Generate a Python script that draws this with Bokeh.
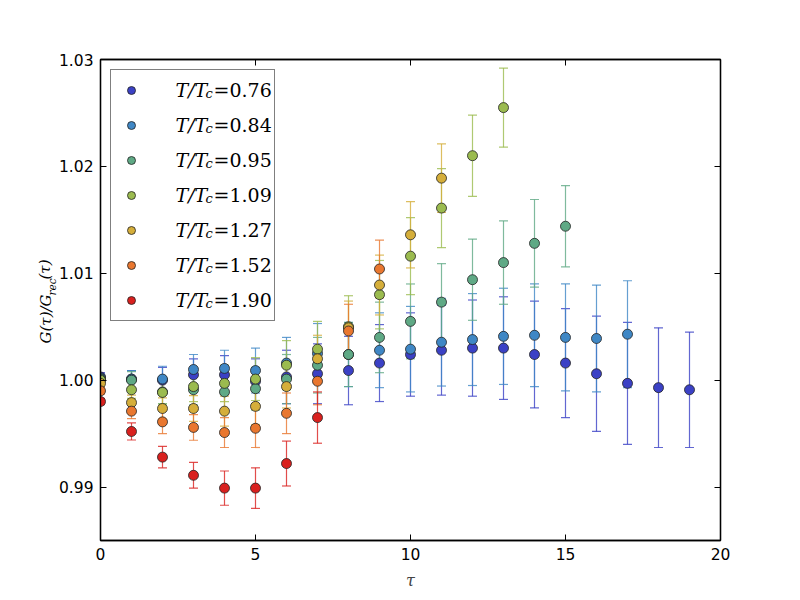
import math
from bokeh.plotting import figure
from bokeh.models import (ColumnDataSource, Whisker, TeeHead, Legend, LegendItem,
                          LinearAxis, FixedTicker, NumeralTickFormatter, Label, Range1d)
from bokeh.embed import file_html
from bokeh.resources import INLINE

# ---- data ----
temps = ["0.76", "0.84", "0.95", "1.09", "1.27", "1.52", "1.90"]
colors = ["#3b41c5", "#3f87c5", "#5fa985", "#9bbb4f", "#d5ae3a", "#e9772f", "#d9201e"]

vals_076 = [1.0003, 1.0001, 1.0000, 1.0005, 1.0005, 0.9999, 1.0003, 1.0006, 1.0009, 1.0016,
            1.0024, 1.0028, 1.0030, 1.0030, 1.0024, 1.0016, 1.0006, 0.9997, 0.9993, 0.9991]
errs_076 = [0.0004, 0.0008, 0.0012, 0.0015, 0.0018, 0.0021, 0.0025, 0.0028, 0.0032, 0.0036,
            0.0039, 0.0042, 0.0045, 0.0048, 0.0050, 0.0051, 0.0054, 0.0057, 0.0056, 0.0054]

vals_084 = [1.0002, 1.0001, 1.0001, 1.0010, 1.0011, 1.0009, 1.0016, 1.0025, 1.0024, 1.0028,
            1.0029, 1.00355, 1.0038, 1.0041, 1.0042, 1.0040, 1.0039, 1.0043]
errs_084 = [0.0004, 0.0008, 0.0012, 0.0014, 0.0017, 0.0021, 0.0024, 0.0028, 0.0030, 0.0035,
            0.0040, 0.0041, 0.0043, 0.0045, 0.0048, 0.0050, 0.0050, 0.0050]

vals_095 = [1.0001, 1.0000, 0.9989, 0.9991, 0.9989, 0.9992, 1.0001, 1.0014, 1.0024, 1.0040,
            1.0055, 1.0073, 1.0094, 1.0110, 1.0128, 1.0144]
errs_095 = [0.0004, 0.0008, 0.0011, 0.0014, 0.0017, 0.0020, 0.0023, 0.0026, 0.0030, 0.0033,
            0.0035, 0.0036, 0.0038, 0.0039, 0.0041, 0.0038]

vals_109 = [1.0000, 0.9991, 0.99885, 0.9994, 0.9997, 1.0001, 1.0014, 1.0029, 1.0050, 1.0080,
            1.0116, 1.0161, 1.0210, 1.0255]
errs_109 = [0.0004, 0.0008, 0.0011, 0.0014, 0.0017, 0.0020, 0.0023, 0.0026, 0.0029, 0.0032,
            0.0036, 0.0037, 0.0038, 0.0037]

vals_127 = [0.9997, 0.9979, 0.99735, 0.99735, 0.9971, 0.99755, 0.9994, 1.0020, 1.0049, 1.0089,
            1.0136, 1.0189]
errs_127 = [0.0003, 0.0007, 0.0010, 0.0012, 0.0014, 0.0017, 0.0020, 0.0022, 0.0025, 0.0028,
            0.0031, 0.0032]

vals_152 = [0.9990, 0.9971, 0.9961, 0.99558, 0.9951, 0.9955, 0.9969, 0.9999, 1.0046, 1.0104]
errs_152 = [0.0003, 0.0007, 0.0011, 0.0012, 0.0014, 0.0018, 0.0019, 0.0022, 0.0025, 0.0027]

vals_190 = [0.9980, 0.9952, 0.9928, 0.9911, 0.9899, 0.9899, 0.9922, 0.9965]
errs_190 = [0.0003, 0.0008, 0.0010, 0.0012, 0.0016, 0.0019, 0.0021, 0.0024]

series_vals = [vals_076, vals_084, vals_095, vals_109, vals_127, vals_152, vals_190]
series_errs = [errs_076, errs_084, errs_095, errs_109, errs_127, errs_152, errs_190]

x_ticks = [0, 5, 10, 15, 20]
y_ticks = [0.99, 1.00, 1.01, 1.02, 1.03]

# ---- figure ----
W, H = 800, 600
FL, FT, FB = 100, 59, 60          # frame left / top / bottom border
FRAME_BOTTOM = H - FB
p = figure(width=W, height=H, x_range=Range1d(0, 20), y_range=Range1d(0.985, 1.03),
           output_backend="svg", toolbar_location=None,
           min_border_left=FL, min_border_right=80, min_border_top=FT, min_border_bottom=FB)
p.background_fill_color = "white"
p.border_fill_color = "white"
p.outline_line_color = "black"
p.outline_line_width = 1.3
p.xgrid.visible = False
p.ygrid.visible = False

tick_font = "DejaVu Sans"
for ax in (p.xaxis[0], p.yaxis[0]):
    ax.axis_line_color = "black"
    ax.axis_line_width = 1.3
    ax.major_tick_in = 6
    ax.major_tick_out = 0
    ax.minor_tick_in = 0
    ax.minor_tick_out = 0
    ax.major_tick_line_width = 1
    ax.major_label_text_font = tick_font
    ax.major_label_text_font_size = "15.5px"
    ax.major_label_text_color = "black"
    ax.major_label_standoff = 7

p.xaxis.ticker = FixedTicker(ticks=x_ticks)
p.xaxis.formatter = NumeralTickFormatter(format="0")
p.yaxis.ticker = FixedTicker(ticks=y_ticks)
p.yaxis.formatter = NumeralTickFormatter(format="0.00")

p.xaxis.axis_label = "τ"
p.xaxis.axis_label_text_font = "DejaVu Serif"
p.xaxis.axis_label_text_font_style = "italic"
p.xaxis.axis_label_text_font_size = "16px"
p.xaxis.axis_label_standoff = 8
p.yaxis.axis_label = None

# mirrored axes (ticks only) on top and right
top = LinearAxis(ticker=FixedTicker(ticks=x_ticks),
                 major_label_overrides={t: "" for t in x_ticks})
right = LinearAxis(ticker=FixedTicker(ticks=y_ticks),
                   major_label_overrides={t: "" for t in y_ticks})
for ax in (top, right):
    ax.axis_line_color = "black"
    ax.axis_line_width = 1.3
    ax.major_tick_in = 6
    ax.major_tick_out = 0
    ax.minor_tick_in = 0
    ax.minor_tick_out = 0
    ax.major_label_standoff = 0
    ax.major_label_text_font_size = "1px"
p.add_layout(top, "above")
p.add_layout(right, "right")

# ---- data marks ----
items = []
for t, c, vals, errs in zip(temps, colors, series_vals, series_errs):
    xs = list(range(len(vals)))
    src = ColumnDataSource(data=dict(
        x=xs, y=vals,
        upper=[v + e for v, e in zip(vals, errs)],
        lower=[v - e for v, e in zip(vals, errs)],
    ))
    w = Whisker(base="x", upper="upper", lower="lower", source=src,
                line_color=c, line_alpha=0.8, line_width=1.2,
                upper_head=TeeHead(size=9, line_color=c, line_alpha=0.8, line_width=1.2),
                lower_head=TeeHead(size=9, line_color=c, line_alpha=0.8, line_width=1.2))
    p.add_layout(w)
    r = p.scatter("x", "y", source=src, size=10, fill_color=c, line_color="#222222",
                  line_width=0.8)
    items.append(LegendItem(label=" ", renderers=[r]))

# legend box + glyphs (texts are drawn below, with subscripts)
LEG_PAD, LEG_STRIDE, LEG_TOP = 10, 35, FT + 10
legend = Legend(items=items, location="top_left", margin=10, padding=LEG_PAD, spacing=15,
                glyph_height=20, glyph_width=20, label_standoff=10, label_height=20,
                label_width=113,
                border_line_color="black", border_line_width=1.3,
                background_fill_color="white", background_fill_alpha=0.0,
                label_text_font_size="12px")
p.add_layout(legend)

serif = "DejaVu Serif"
for i, t in enumerate(temps):
    cy = LEG_TOP + LEG_PAD + 10 + i * LEG_STRIDE      # page y of item centre
    base = FRAME_BOTTOM - cy                            # frame-relative y (from bottom)
    p.add_layout(Label(x=175 - FL, y=base, x_units="screen", y_units="screen",
                       text="T/T", text_font=serif, text_font_style="italic",
                       text_font_size="19px", text_baseline="alphabetic",
                       text_color="black", level="overlay"))
    p.add_layout(Label(x=205 - FL, y=base - 4, x_units="screen", y_units="screen",
                       text="c", text_font=serif, text_font_style="italic",
                       text_font_size="13px", text_baseline="alphabetic",
                       text_color="black", level="overlay"))
    p.add_layout(Label(x=213 - FL, y=base, x_units="screen", y_units="screen",
                       text="=" + t, text_font=serif, text_font_style="normal",
                       text_font_size="19px", text_baseline="alphabetic",
                       text_color="black", level="overlay"))

# ---- y axis label with subscript (each piece in its own left side panel) ----
p.add_layout(Label(x=8, y=245, x_units="screen", y_units="screen", text="rec",
                   angle=math.pi / 2, text_align="left", text_baseline="alphabetic",
                   text_font=serif, text_font_style="italic", text_font_size="10.5px",
                   text_color="black"), "left")
p.add_layout(Label(x=20.5, y=197, x_units="screen", y_units="screen", text="G(τ)/G",
                   angle=math.pi / 2, text_align="left", text_baseline="alphabetic",
                   text_font=serif, text_font_style="italic", text_font_size="15px",
                   text_color="black"), "left")
p.add_layout(Label(x=37, y=261, x_units="screen", y_units="screen", text="(τ)",
                   angle=math.pi / 2, text_align="left", text_baseline="alphabetic",
                   text_font=serif, text_font_style="italic", text_font_size="15px",
                   text_color="black"), "left")

open("out.html", "w").write(file_html(p, INLINE))
